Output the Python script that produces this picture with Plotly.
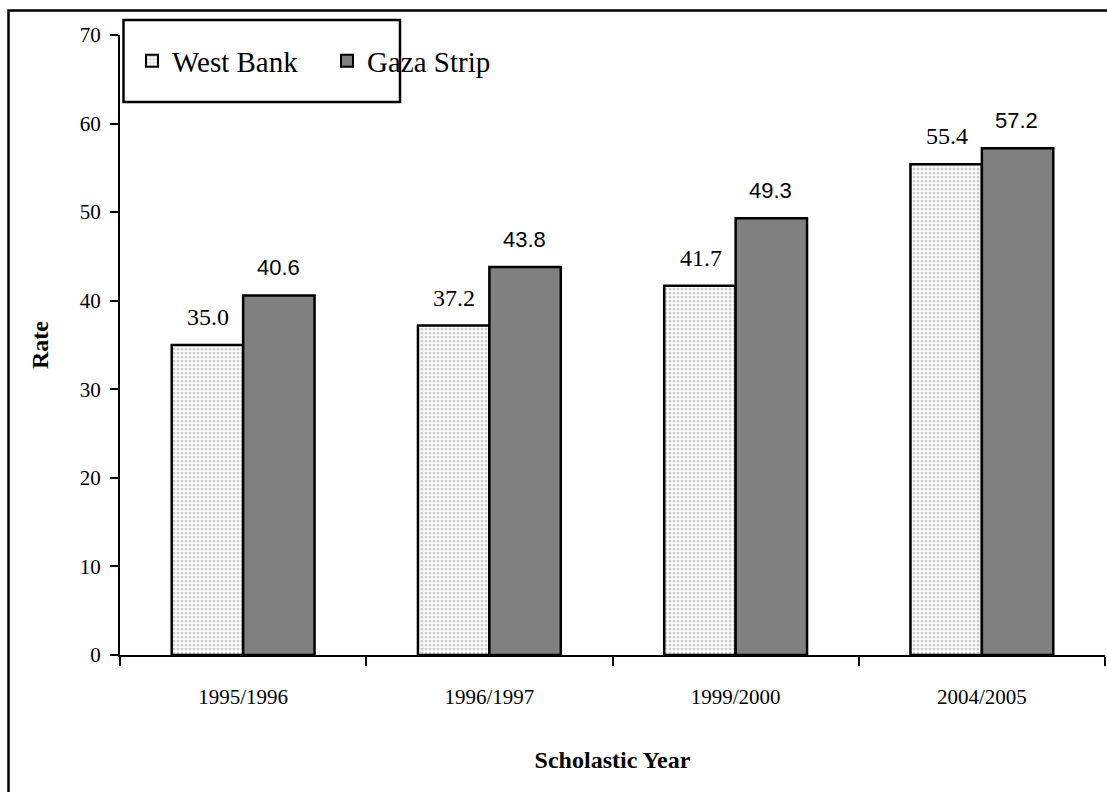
import plotly.graph_objects as go

years = ["1995/1996", "1996/1997", "1999/2000", "2004/2005"]
west_bank = [35.0, 37.2, 41.7, 55.4]
gaza_strip = [40.6, 43.8, 49.3, 57.2]

SERIF = "Liberation Serif"
SANS = "Liberation Sans"

fig = go.Figure()
fig.add_trace(go.Bar(
    name="West Bank", x=years, y=west_bank,
    marker=dict(color="white", line=dict(color="black", width=2.5),
                pattern=dict(shape=".", fgcolor="#9a9a9a", bgcolor="white",
                             size=4, solidity=0.45, fillmode="overlay")),
))
fig.add_trace(go.Bar(
    name="Gaza Strip", x=years, y=gaza_strip,
    marker=dict(color="#808080", line=dict(color="black", width=2.5)),
))

annotations = []
for yr, v in zip(years, west_bank):
    annotations.append(dict(x=yr, y=v, xref="x", yref="y", text=f"{v:.1f}",
                            showarrow=False, xshift=-35, yshift=13, yanchor="bottom",
                            font=dict(family=SERIF, size=24, color="black")))
for yr, v in zip(years, gaza_strip):
    annotations.append(dict(x=yr, y=v, xref="x", yref="y", text=f"{v:.1f}",
                            showarrow=False, xshift=35, yshift=13, yanchor="bottom",
                            font=dict(family=SANS, size=22, color="black")))

L, R, T, B = 120, 2, 35, 137
W, H = 1107, 792
pw, ph = W - L - R, H - T - B

def px2x(px):
    return (px - L) / pw

def py2y(py):
    return (H - B - py) / ph

shapes = [
    # outer frame
    dict(type="rect", xref="paper", yref="paper",
         x0=px2x(8.5), x1=px2x(1115), y0=py2y(800), y1=py2y(10.5),
         line=dict(color="black", width=2.5), fillcolor="rgba(0,0,0,0)", layer="above"),
    # legend box
    dict(type="rect", xref="paper", yref="paper",
         x0=px2x(123.5), x1=px2x(400), y0=py2y(102), y1=py2y(20),
         line=dict(color="black", width=2.5), fillcolor="white", layer="above"),
]

fig.update_layout(
    width=W, height=H,
    margin=dict(l=L, r=R, t=T, b=B),
    paper_bgcolor="white", plot_bgcolor="white",
    font=dict(family=SERIF, color="black"),
    barmode="group", bargap=0.42, bargroupgap=0,
    showlegend=True,
    legend=dict(orientation="h", x=px2x(132), y=py2y(61), xanchor="left", yanchor="middle",
                font=dict(family=SERIF, size=29, color="black"),
                bgcolor="rgba(0,0,0,0)", borderwidth=0, itemsizing="constant",
                entrywidth=150, traceorder="normal"),
    xaxis=dict(type="category", showline=True, linecolor="black", linewidth=2,
               ticks="outside", tickson="boundaries", ticklen=9, tickwidth=2, tickcolor="black",
               showgrid=False, zeroline=False, ticklabelstandoff=22,
               tickfont=dict(family=SERIF, size=21, color="black"),
               title=dict(text="<b>Scholastic Year</b>", standoff=43,
                          font=dict(family=SERIF, size=24, color="black"))),
    yaxis=dict(range=[0, 70], dtick=10, showline=True, linecolor="black", linewidth=2,
               ticks="outside", ticklen=8, tickwidth=2, tickcolor="black",
               showgrid=False, zeroline=False, ticklabelstandoff=5,
               tickfont=dict(family=SERIF, size=21, color="black"),
               title=dict(text="<b>Rate</b>", standoff=24,
                          font=dict(family=SERIF, size=24, color="black"))),
    annotations=annotations,
    shapes=shapes,
)

fig.write_html("out.html", config={"displayModeBar": False},
               post_script="document.body.style.margin='0';")
